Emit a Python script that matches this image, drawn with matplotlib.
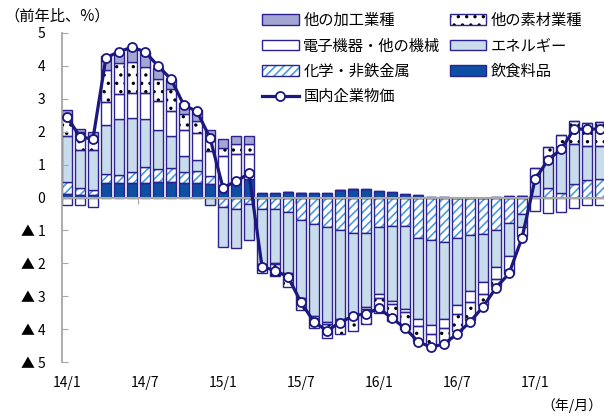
import numpy as np
import matplotlib
matplotlib.use("Agg")
import matplotlib.pyplot as plt
import matplotlib.transforms as mtransforms
from matplotlib.patches import Patch
from matplotlib.lines import Line2D
from matplotlib.legend_handler import HandlerTuple

plt.rcParams['font.family'] = ['Noto Sans CJK JP', 'DejaVu Sans']
plt.rcParams['hatch.linewidth'] = 1.2

# months 14/1 .. 17/6
months = [f"{y}/{m}" for y in (14, 15, 16, 17) for m in range(1, 13)][:42]
tick_labels = ["14/1", "14/7", "15/1", "15/7", "16/1", "16/7", "17/1"]

# contributions to y/y change (%pt)
food = [0.12, 0.08, 0.08, 0.45, 0.45, 0.45, 0.45, 0.46, 0.47, 0.44, 0.45, 0.42,
        0.39, 0.50, 0.55, 0.14, 0.13, 0.18, 0.15, 0.15, 0.15, 0.22, 0.26, 0.26,
        0.20, 0.18, 0.12, 0.08, 0.03, 0.02, 0.00, 0.00, 0.00, 0.02, 0.05, 0.05,
        -0.02, -0.02, -0.02, -0.02, -0.02, -0.02]
chem = [0.34, 0.20, 0.16, 0.27, 0.22, 0.32, 0.47, 0.41, 0.43, 0.32, 0.35, 0.23,
        -0.30, -0.36, -0.20, -0.36, -0.34, -0.43, -0.67, -0.81, -0.91, -0.99, -1.07, -1.07,
        -0.90, -0.87, -0.87, -1.22, -1.29, -1.34, -1.22, -1.14, -1.11, -0.99, -0.77, -0.50,
        0.06, 0.28, 0.15, 0.42, 0.52, 0.57]
energy = [1.40, 1.15, 1.21, 1.48, 1.71, 1.64, 1.46, 1.17, 0.96, 0.49, 0.34, -0.24,
          -1.21, -1.16, -1.10, -1.65, -1.64, -1.88, -2.37, -2.79, -2.87, -2.71, -2.58, -2.27,
          -2.02, -2.27, -2.52, -2.46, -2.59, -2.36, -2.05, -1.70, -1.47, -1.11, -1.01, -0.40,
          0.56, 0.94, 1.39, 1.20, 1.06, 1.01]
machinery = [-0.22, -0.24, -0.30, 0.70, 0.77, 0.78, 0.81, 0.88, 0.78, 0.81, 0.81, 0.75,
             0.88, 0.83, 0.78, -0.05, -0.05, 0.00, 0.00, -0.05, -0.08, 0.00, 0.00, -0.05,
             -0.12, -0.10, -0.10, -0.22, -0.27, -0.28, -0.28, -0.35, -0.34, -0.38, -0.43, -0.27,
             -0.40, -0.44, -0.42, -0.29, -0.20, -0.20]
materials = [0.65, 0.55, 0.41, 0.99, 0.95, 0.94, 0.79, 0.68, 0.65, 0.48, 0.37, 0.31,
             0.23, 0.31, 0.31, -0.25, -0.35, -0.40, -0.37, -0.33, -0.42, -0.45, -0.40, -0.46,
             -0.48, -0.50, -0.50, -0.45, -0.35, -0.42, -0.50, -0.54, -0.34, -0.20, -0.12, 0.00,
             0.28, 0.33, 0.36, 0.70, 0.68, 0.73]
other = [0.15, 0.10, 0.12, 0.40, 0.31, 0.35, 0.45, 0.35, 0.30, 0.33, 0.33, 0.33,
         0.28, 0.24, 0.24, 0, 0, 0, 0, 0, 0, 0, 0, 0,
         0, 0, 0, 0, 0, 0, 0, 0, 0, 0, 0, 0,
         0, 0, 0, 0, 0, 0]
# domestic CGPI, y/y %
cgpi = [2.46, 1.84, 1.78, 4.25, 4.43, 4.57, 4.43, 4.00, 3.60, 2.80, 2.62, 1.81,
        0.30, 0.49, 0.73, -2.10, -2.22, -2.41, -3.19, -3.78, -4.05, -3.80, -3.60, -3.53,
        -3.37, -3.67, -3.97, -4.38, -4.55, -4.45, -4.15, -3.78, -3.32, -2.74, -2.31, -1.22,
        0.55, 1.15, 1.46, 2.08, 2.08, 2.08]

navy = '#2b2290'
line_col = '#1c1880'
hatch_blue = '#4c9be0'

# (label, values, face, hatch, hatch colour) in stacking order from zero
series = [
    ('飲食料品', food, '#0d4fa3', None, None),
    ('化学・非鉄金属', chem, 'white', '////', hatch_blue),
    ('エネルギー', energy, '#c9dcec', None, None),
    ('電子機器・他の機械', machinery, 'white', None, None),
    ('他の素材業種', materials, 'white', '..', 'black'),
    ('他の加工業種', other, '#a3a6d3', None, None),
]

fig = plt.figure(figsize=(6.04, 4.16), dpi=100)
ax = fig.add_axes([62 / 604, 54 / 416, 1 - 62 / 604, 329 / 416])

x = np.arange(len(months))
w = 0.72
pos_base = np.zeros(len(x))
neg_base = np.zeros(len(x))
handles = {}
for label, vals, face, hatch, hcol in series:
    v = np.array(vals, dtype=float)
    bottom = np.where(v >= 0, pos_base, neg_base)
    if hatch:
        # hatch in its own colour, outline drawn separately in navy
        ax.bar(x, v, w, bottom=bottom, color=face, hatch=hatch,
               edgecolor=hcol, linewidth=0, zorder=1)
        ax.bar(x, v, w, bottom=bottom, fill=False, edgecolor=navy,
               linewidth=1.0, zorder=1.1)
        handles[label] = (Patch(facecolor=face, hatch=hatch, edgecolor=hcol, linewidth=0),
                          Patch(fill=False, edgecolor=navy, linewidth=1.0))
    else:
        ax.bar(x, v, w, bottom=bottom, color=face, edgecolor=navy,
               linewidth=1.0, zorder=1.1)
        handles[label] = Patch(facecolor=face, edgecolor=navy, linewidth=1.0)
    pos_base = pos_base + np.where(v > 0, v, 0)
    neg_base = neg_base + np.where(v < 0, v, 0)

ax.plot(x, cgpi, color=line_col, lw=2.3, marker='o', ms=6.5,
        mfc='white', mec=line_col, mew=1.3, zorder=4)
handles['国内企業物価'] = Line2D([], [], color=line_col, lw=2.3, marker='o', ms=6.5,
                            mfc='white', mec=line_col, mew=1.3)

ax.set_xlim(-0.38, 41.3)
ax.set_ylim(-5, 5)

for side in ('top', 'right'):
    ax.spines[side].set_visible(False)
ax.spines['left'].set_color('#a6a6a6')
ax.spines['left'].set_linewidth(1.3)
ax.spines['bottom'].set_position(('data', 0))
ax.spines['bottom'].set_color('#a6a6a6')
ax.spines['bottom'].set_linewidth(1.5)
ax.spines['bottom'].set_zorder(3)

ax.set_yticks(range(-5, 6))
ax.set_yticklabels([f'▲ {-i}' if i < 0 else str(i) for i in range(-5, 6)])
ax.tick_params(axis='y', direction='in', length=4, color='#a6a6a6',
               labelsize=10, pad=12)
ax.set_xticks(np.arange(5.5, 41, 6))
ax.set_xticklabels([])
ax.tick_params(axis='x', direction='out', length=4, color='#a6a6a6')

trans = mtransforms.blended_transform_factory(ax.transData, ax.transAxes)
for i, lab in enumerate(tick_labels):
    ax.text(i * 6, -21 / 329, lab, transform=trans, ha='center', va='center',
            fontsize=10)

fig.text(4 / 604, 1 - 16 / 416, '（前年比、%）', ha='left', va='center', fontsize=11)
fig.text(1 - 2 / 604, 1 - 406 / 416, '（年/月）', ha='right', va='center', fontsize=10)

order = ['他の加工業種', '電子機器・他の機械', '化学・非鉄金属', '国内企業物価',
         '他の素材業種', 'エネルギー', '飲食料品']
fig.legend([handles[k] for k in order], order, ncol=2, frameon=False,
           loc='upper left', bbox_to_anchor=(262 / 604, 1 - 12 / 416),
           fontsize=11, borderpad=0, borderaxespad=0, handlelength=2.4,
           handleheight=0.7, handletextpad=0.3, labelspacing=0.55,
           columnspacing=0.6, handler_map={tuple: HandlerTuple(ndivide=1)})

fig.savefig('out.png', dpi=100)
